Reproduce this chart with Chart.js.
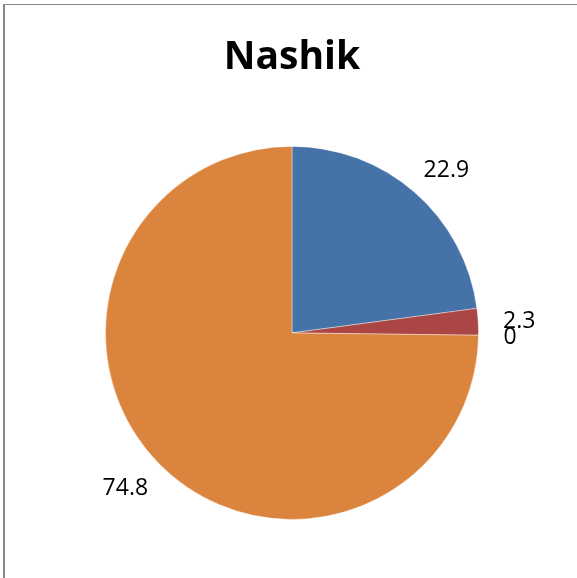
<!DOCTYPE html>
<html>
<head>
<meta charset="utf-8">
<script src="https://cdn.jsdelivr.net/npm/chart.js@4"></script>
<style>
    html, body { margin: 0; padding: 0; background: #fff; }
    #wrap { position: relative; width: 577px; height: 578px; }
    #frame {
        position: absolute; left: 3px; top: 4px; right: 0; bottom: 0;
        border-top: 1px solid #888; border-left: 2px solid #888;
        pointer-events: none;
    }
</style>
</head>
<body>
<div id="wrap">
    <canvas id="chart" width="577" height="578"></canvas>
    <div id="frame"></div>
</div>
<script>
var title = 'Nashik';
var labels = ['Series A', 'Series B', 'Series C', 'Series D'];
var values = [22.9, 2.3, 0, 74.8];
var colors = ['#4572A7', '#AA4643', '#89A54E', '#DB843D'];

// puts each value just outside the rim of its slice
var outsideLabels = {
    id: 'outsideLabels',
    afterDatasetsDraw: function(chart) {
        var ctx = chart.ctx;
        var meta = chart.getDatasetMeta(0);
        ctx.save();
        ctx.font = '23px "Open Sans"';
        ctx.fillStyle = '#000';
        ctx.textAlign = 'center';
        ctx.textBaseline = 'middle';
        meta.data.forEach(function(arc, i) {
            var p = arc.getProps(['x', 'y', 'startAngle', 'endAngle', 'outerRadius'], true);
            var mid = (p.startAngle + p.endAngle) / 2;
            var c = Math.cos(mid), s = Math.sin(mid);
            var text = String(values[i]);
            var w = ctx.measureText(text).width;
            var h = 14;
            var r = p.outerRadius + 25;
            var x = p.x + c * r + c * w / 2;
            var y = p.y + s * r + s * h / 2 + 2;
            ctx.fillText(text, x, y);
        });
        ctx.restore();
    }
};

var ctx = document.getElementById('chart').getContext('2d');
var chart = new Chart(ctx, {
    type: 'pie',
    data: {
        labels: labels,
        datasets: [{
            data: values,
            backgroundColor: colors,
            borderColor: 'rgba(255,255,255,0.4)',
            borderWidth: 1
        }]
    },
    options: {
        responsive: false,
        animation: false,
        layout: {
            padding: { top: 10, left: 105, right: 98, bottom: 58 }
        },
        plugins: {
            legend: { display: false },
            tooltip: { enabled: false },
            title: {
                display: true,
                text: title,
                color: '#000',
                font: { family: 'Open Sans', size: 39, weight: 'bold', lineHeight: 1.2 },
                padding: { top: 24, bottom: 65 }
            }
        }
    },
    plugins: [outsideLabels]
});
</script>
</body>
</html>
